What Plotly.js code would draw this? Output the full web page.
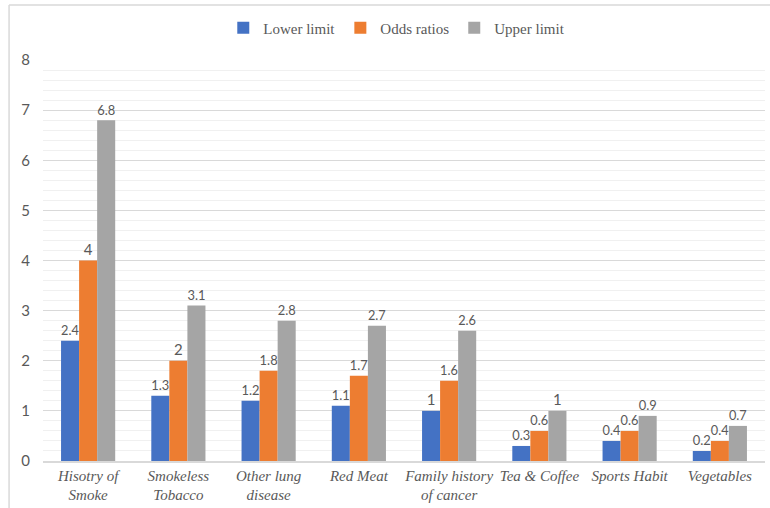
<!DOCTYPE html>
<html>
<head>
<meta charset="utf-8">
<script src="https://cdn.plot.ly/plotly-3.0.1.min.js"></script>
<style>
  html, body { margin: 0; padding: 0; background: #ffffff; }
  #chart { width: 770px; height: 508px; }
</style>
</head>
<body>
<div id="chart"></div>
<script>
const categories = [
  "Hisotry of<br>Smoke",
  "Smokeless<br>Tobacco",
  "Other lung<br>disease",
  "Red Meat",
  "Family history<br>of cancer",
  "Tea & Coffee",
  "Sports Habit",
  "Vegetables"
];
const lowerLimit = [2.4, 1.3, 1.2, 1.1, 1, 0.3, 0.4, 0.2];
const oddsRatios = [4, 2, 1.8, 1.7, 1.6, 0.6, 0.6, 0.4];
const upperLimit = [6.8, 3.1, 2.8, 2.7, 2.6, 1, 0.9, 0.7];
const seriesNames = ["Lower limit", "Odds ratios", "Upper limit"];
const seriesColors = ["#4472C4", "#ED7D31", "#A5A5A5"];
const yTicks = [0, 1, 2, 3, 4, 5, 6, 7, 8];

const SERIF = "Liberation Serif, Times New Roman, serif";
const SANS = "Lato, Open Sans, sans-serif";
const labelFont = { family: SANS, size: 15, color: "#595959" };

function makeTrace(name, values, color) {
  return {
    type: "bar",
    name: name,
    x: categories,
    y: values,
    marker: { color: color },
    text: values.map(v => String(v)),
    textposition: "outside",
    textfont: labelFont,
    cliponaxis: false,
    hoverinfo: "x+y+name"
  };
}

const data = [
  makeTrace(seriesNames[0], lowerLimit, seriesColors[0]),
  makeTrace(seriesNames[1], oddsRatios, seriesColors[1]),
  makeTrace(seriesNames[2], upperLimit, seriesColors[2])
];

const layout = {
  width: 770,
  height: 508,
  margin: { l: 43, r: 5, t: 60, b: 47, pad: 0 },
  paper_bgcolor: "#ffffff",
  plot_bgcolor: "#ffffff",
  barmode: "group",
  bargap: 0.4,
  bargroupgap: 0,
  showlegend: true,
  legend: {
    orientation: "h",
    x: 0.49,
    xanchor: "center",
    y: 1.08,
    yanchor: "middle",
    font: { family: SERIF, size: 15, color: "#595959" },
    itemwidth: 30,
    tracegroupgap: 0
  },
  xaxis: {
    type: "category",
    showgrid: false,
    showline: true,
    linecolor: "#d9d9d9",
    linewidth: 1.5,
    ticks: "",
    tickfont: { family: SERIF, size: 15, color: "#595959", style: "italic" },
    fixedrange: true
  },
  yaxis: {
    range: [0, 8],
    tickvals: yTicks,
    ticktext: yTicks.map(String),
    showgrid: true,
    gridcolor: "#d9d9d9",
    gridwidth: 1,
    zeroline: false,
    showline: false,
    ticks: "",
    ticklabelstandoff: 12,
    tickfont: { family: SANS, size: 15, color: "#595959" },
    minor: { dtick: 0.2, showgrid: true, gridcolor: "#f0f0f0", gridwidth: 1, ticks: "" },
    fixedrange: true
  },
  shapes: [
    { type: "line", xref: "paper", yref: "paper", x0: -0.047, x1: -0.047, y0: -0.2, y1: 1.137,
      line: { color: "#d9d9d9", width: 1.5 } },
    { type: "line", xref: "paper", yref: "paper", x0: -0.047, x1: 1.05, y0: 1.137, y1: 1.137,
      line: { color: "#d9d9d9", width: 1.5 } }
  ],
  font: { family: SANS, color: "#595959" }
};

Plotly.newPlot("chart", data, layout, { displayModeBar: false, staticPlot: true });
</script>
</body>
</html>
